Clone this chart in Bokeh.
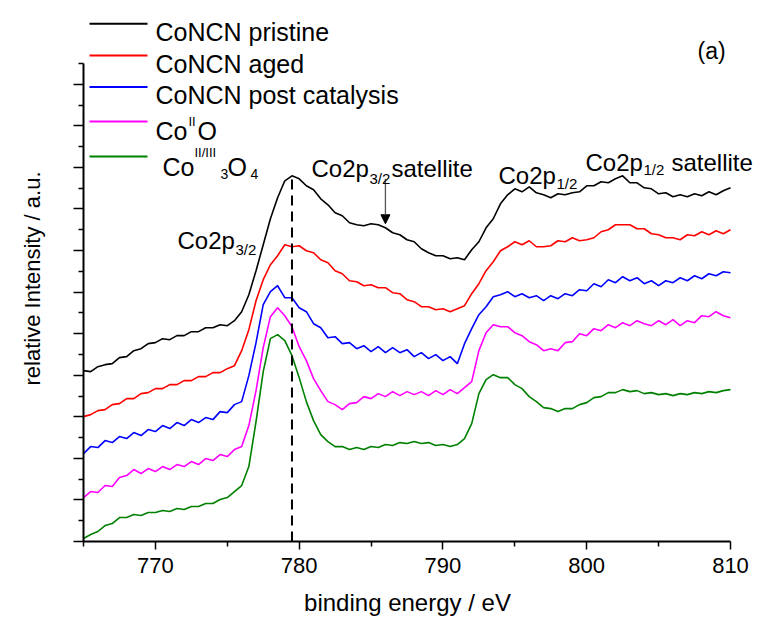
import numpy as np
from bokeh.plotting import figure
from bokeh.models import Range1d, FixedTicker, Label, Arrow, NormalHead, CustomJSTickFormatter
from bokeh.embed import file_html
from bokeh.resources import INLINE

# ---------------- data ----------------
energy_ev = np.arange(765.0, 810.01, 0.5)

pristine = [171, 170, 175, 177, 178, 184, 185, 191, 193, 198,
            199, 203, 202, 206, 206, 210, 210, 214, 214, 217,
            216, 221, 230, 247, 271, 297, 323, 344, 361, 366,
            363, 356, 352, 343, 337, 329, 326, 319, 317, 316,
            318, 317, 314, 309, 307, 302, 300, 293, 289, 286,
            286, 283, 284, 282, 292, 300, 314, 323, 338, 347,
            353, 350, 355, 349, 347, 344, 348, 347, 349, 350,
            356, 356, 360, 359, 363, 366, 359, 359, 354, 353,
            348, 349, 345, 347, 345, 348, 346, 350, 347, 351,
            354]

aged = [125, 127, 131, 132, 137, 138, 143, 143, 148, 149,
        153, 153, 157, 157, 161, 161, 165, 165, 169, 169,
        173, 176, 191, 212, 241, 262, 277, 286, 297, 295,
        296, 291, 289, 282, 279, 271, 268, 261, 260, 256,
        257, 254, 254, 249, 248, 242, 240, 235, 235, 232,
        233, 230, 233, 236, 248, 258, 271, 280, 291, 295,
        300, 297, 301, 295, 295, 296, 301, 300, 304, 301,
        302, 304, 310, 312, 317, 317, 317, 313, 313, 308,
        307, 304, 304, 302, 307, 306, 310, 307, 311, 308,
        312]

post_catalysis = [88, 95, 94, 101, 99, 105, 103, 109, 106, 112,
                  110, 116, 113, 119, 116, 122, 119, 124, 122, 130,
                  129, 137, 140, 166, 199, 237, 250, 256, 244, 244,
                  234, 230, 218, 214, 204, 205, 198, 199, 193, 196,
                  190, 195, 189, 194, 189, 192, 185, 189, 183, 187,
                  181, 185, 178, 198, 213, 227, 235, 245, 247, 250,
                  245, 248, 244, 246, 241, 246, 243, 248, 246, 252,
                  251, 258, 255, 262, 259, 265, 261, 264, 258, 261,
                  256, 261, 259, 264, 261, 266, 263, 268, 266, 270,
                  269]

coo = [44, 50, 49, 56, 55, 64, 66, 72, 68, 73,
       70, 75, 72, 77, 75, 80, 77, 83, 81, 87,
       85, 92, 95, 116, 151, 194, 225, 234, 226, 215,
       195, 181, 163, 151, 140, 137, 132, 138, 139, 145,
       143, 148, 145, 150, 146, 150, 147, 150, 146, 151,
       147, 152, 148, 154, 160, 191, 209, 217, 215, 215,
       209, 206, 200, 197, 191, 193, 191, 199, 200, 208,
       206, 213, 211, 217, 214, 219, 216, 221, 218, 216,
       221, 217, 222, 216, 221, 219, 226, 225, 230, 226,
       224]

co3o4 = [3, 7, 10, 16, 18, 24, 24, 27, 26, 29,
         29, 31, 30, 33, 32, 35, 35, 38, 38, 42,
         44, 50, 56, 75, 120, 170, 203, 207, 201, 186,
         164, 140, 121, 107, 100, 95, 95, 92, 94, 92,
         95, 94, 97, 96, 99, 98, 100, 98, 99, 96,
         97, 95, 97, 103, 118, 148, 162, 167, 164, 164,
         157, 153, 145, 140, 134, 133, 130, 133, 133, 137,
         139, 144, 145, 149, 149, 152, 150, 151, 148, 149,
         147, 148, 146, 148, 147, 149, 148, 150, 149, 151,
         152]

series_names = ["CoNCN pristine", "CoNCN aged", "CoNCN post catalysis", "CoIIO", "CoII/III3O4"]
series_values = [pristine, aged, post_catalysis, coo, co3o4]
series_colors = ["#000000", "#ff0000", "#0000ff", "#ff00ff", "#008000"]

x_ticks = [770, 780, 790, 800, 810]
x_minor_ticks = [765, 775, 785, 795, 805]

peak_energy = 779.5          # dashed marker
peak_top = 366
satellite_energy = 786.0     # arrow marker
satellite_arrow_top = 363
satellite_arrow_tip = 318

# ---------------- layout helpers ----------------
FONT = "Liberation Sans"
W, H = 761, 619
# axes box in page pixels
AX_L, AX_R, AX_T, AX_B = 83, 730, 63, 541
E0, E1 = 765.0, 810.0
I0, I1 = 0.0, 478.4


def X(px):  # page pixel -> data x
    return E0 + (px - AX_L) * (E1 - E0) / (AX_R - AX_L)


def Y(py):  # page pixel -> data y
    return I0 + (AX_B - py) * (I1 - I0) / (AX_B - AX_T)


p = figure(width=W, height=H, x_range=Range1d(X(0), X(W)), y_range=Range1d(Y(H), Y(0)),
           output_backend="svg", toolbar_location=None,
           min_border_left=0, min_border_right=0, min_border_top=0, min_border_bottom=0)
p.outline_line_color = None
p.grid.visible = False
p.background_fill_color = "white"
p.border_fill_color = "white"

for vals, col in zip(series_values, series_colors):
    p.line(energy_ev, vals, line_color=col, line_width=1.6)

p.segment(x0=[peak_energy], y0=[I0], x1=[peak_energy], y1=[peak_top],
          line_color="black", line_width=2, line_dash="10 6")

p.add_layout(Arrow(end=NormalHead(size=9, fill_color="black", line_color="black"),
                   x_start=satellite_energy, y_start=satellite_arrow_top,
                   x_end=satellite_energy, y_end=satellite_arrow_tip,
                   line_color="#555555", line_width=1.3))

# axes (drawn at fixed data locations inside the canvas)
xa = p.xaxis[0]
xa.ticker = FixedTicker(ticks=x_ticks, minor_ticks=x_minor_ticks)
xa.fixed_location = I0
xa.bounds = (E0, E1)
ya = p.yaxis[0]
y_major = [41.6 * k for k in range(12)]
y_minor = [20.8 + 41.6 * k for k in range(12)]
ya.ticker = FixedTicker(ticks=y_major, minor_ticks=y_minor)
ya.formatter = CustomJSTickFormatter(code="return ''")
ya.fixed_location = E0
ya.bounds = (I0, I1)
for ax in (xa, ya):
    ax.axis_line_width = 2
    ax.axis_line_color = "black"
    ax.major_tick_line_width = 1.5
    ax.minor_tick_line_width = 1.5
    ax.major_tick_in = 0
    ax.minor_tick_in = 0
    ax.major_label_text_font = FONT
    ax.major_label_text_color = "black"
xa.major_tick_out = 8
xa.minor_tick_out = 5
ya.major_tick_out = 10
ya.minor_tick_out = 5
xa.major_label_text_font_size = "22px"
xa.major_label_standoff = 8


def lab(px, py, text, size, align="left", angle=0.0, baseline="alphabetic", color="black"):
    p.add_layout(Label(x=X(px), y=Y(py), text=text, text_font=FONT, text_font_size=f"{size}px",
                       text_align=align, text_baseline=baseline, angle=angle, text_color=color))


# axis titles
lab(407, 602, "binding energy / eV", 24, align="center")
lab(32, 278, "relative Intensity / a.u.", 22, align="center", angle=np.pi / 2, baseline="middle")

# legend
legend_rows = [23.3, 55, 86.5, 121, 156]
for yy, col in zip(legend_rows, series_colors):
    p.add_layout(Arrow(end=None, x_start=X(89), y_start=Y(yy), x_end=X(147), y_end=Y(yy),
                       line_color=col, line_width=2))
lab(155, 31.7, "CoNCN pristine", 25)
lab(155, 63.5, "CoNCN aged", 25)
lab(155, 94.5, "CoNCN post catalysis", 25)
lab(155, 130.5, "Co", 25)
lab(188, 121, "II", 13)
lab(197, 130.5, "O", 25)
lab(162, 166.7, "Co", 25)
lab(194, 152, "II/III", 13)
lab(220, 173.5, "3", 14)
lab(227, 166.7, "O", 25)
lab(250, 173.5, "4", 14)

# peak annotations
lab(177, 240, "Co2p", 24)
lab(235, 248.5, "3/2", 15)
lab(311, 168.3, "Co2p", 24)
lab(369, 178, "3/2", 15)
lab(391, 168.3, "satellite", 24)
lab(498, 175, "Co2p", 24)
lab(556, 183, "1/2", 15)
lab(585, 161.7, "Co2p", 24)
lab(643, 168.5, "1/2", 15)
lab(671, 161.7, "satellite", 24)
lab(697, 50, "(a)", 23)

html = file_html(p, INLINE)
open("out.html", "w").write(html)
